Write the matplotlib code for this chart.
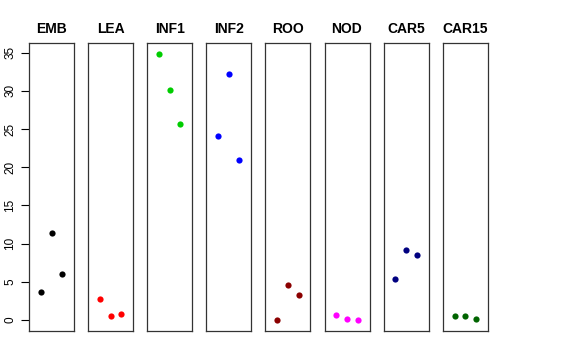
import numpy as np
import matplotlib.pyplot as plt

plt.rcParams['font.family'] = ['Liberation Sans', 'DejaVu Sans']

# tissues and their three values each
tejidos = ['EMB', 'LEA', 'INF1', 'INF2', 'ROO', 'NOD', 'CAR5', 'CAR15']
valores = [
    [3.66, 11.43, 6.07],
    [2.70, 0.48, 0.83],
    [34.86, 30.06, 25.60],
    [24.12, 32.24, 20.98],
    [0.0, 4.62, 3.23],
    [0.61, 0.18, 0.0],
    [5.41, 9.16, 8.50],
    [0.57, 0.57, 0.18],
]
colores = ['black', 'red', '#00CD00', 'blue', '#8B0000', 'magenta', '#000080', '#006400']
yticks = [0, 5, 10, 15, 20, 25, 30, 35]

W, H = 576, 360
fig = plt.figure(figsize=(W / 100, H / 100), dpi=100)

for i, (nombre, vals, col) in enumerate(zip(tejidos, valores, colores)):
    izq = 29 + 59.1 * i
    ax = fig.add_axes([izq / W, (H - 331) / H, 45 / W, 288 / H])
    x = np.arange(1, len(vals) + 1)
    ax.scatter(x, vals, s=20, color=col, zorder=3, linewidths=0)
    ax.set_xlim(-0.12, 4.12)
    ax.set_ylim(-1.44, 36.26)
    ax.set_xticks([])
    ax.set_title(nombre, fontsize=10, fontweight='bold', pad=7)
    for s in ax.spines.values():
        s.set_linewidth(0.9)
        s.set_color('#333333')
    if i == 0:
        ax.set_yticks(yticks)
        ax.tick_params(axis='y', length=6, width=0.8, labelsize=8.5, pad=3,
                       labelrotation=90)
        for lab in ax.get_yticklabels():
            lab.set_va('center')
    else:
        ax.set_yticks([])

fig.savefig('out.png', dpi=100)
